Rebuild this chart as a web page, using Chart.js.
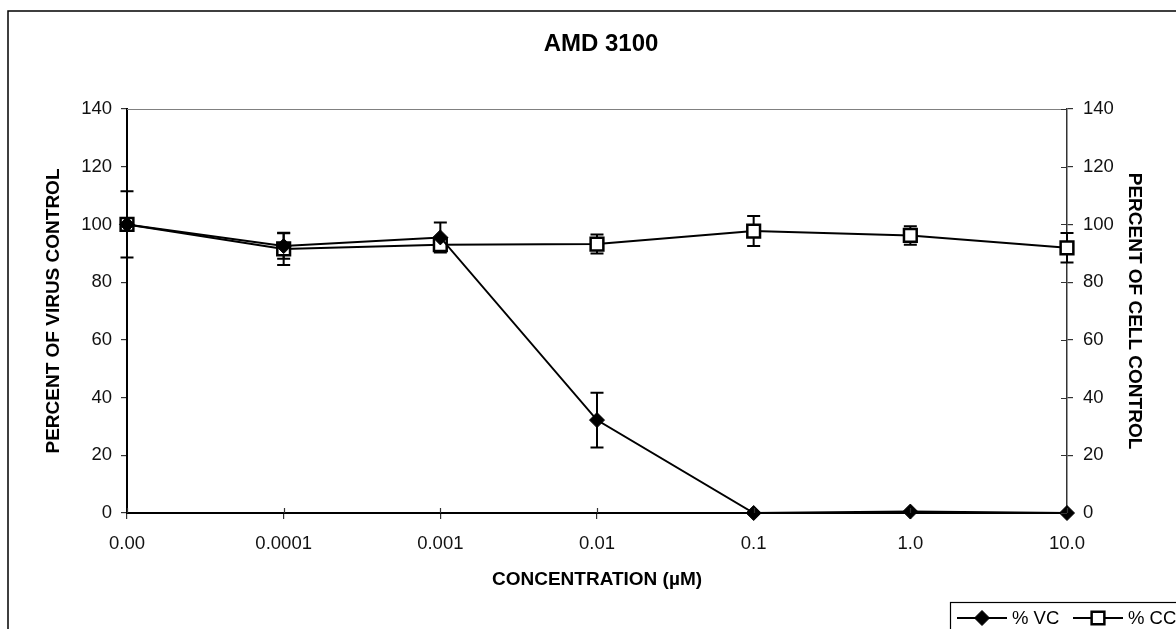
<!DOCTYPE html>
<html>
<head>
<meta charset="utf-8">
<title>AMD 3100</title>
<script src="https://cdn.jsdelivr.net/npm/chart.js@4.4.0/dist/chart.umd.min.js"></script>
<style>
  html, body { margin: 0; padding: 0; background: #fff; overflow: hidden; }
</style>
</head>
<body>
<canvas id="amdChart" width="1176" height="629"></canvas>
<script>
// categories (concentration, µM)
const CONCENTRATIONS = ['0.00', '0.0001', '0.001', '0.01', '0.1', '1.0', '10.0'];

// % of virus control and its error
const VC_VALUES = [100, 92.5, 95.5, 32.2, 0, 0.5, 0];
const VC_ERRORS = [11.5, 4.4, 5.2, 9.5, 0, 0, 0];

// % of cell control and its error
const CC_VALUES = [100, 91.5, 93, 93.2, 97.7, 96.2, 91.9];
const CC_ERRORS = [1.5, 5.6, 1, 3.3, 5.2, 3.2, 5.1];

const Y_TICKS = [0, 20, 40, 60, 80, 100, 120, 140];

const FONT = "'Liberation Sans', Arial, sans-serif";

// error bars, drawn behind the markers
const errorBars = {
    id: 'errorBars',
    beforeDatasetsDraw(chart) {
        const ctx = chart.ctx;
        ctx.save();
        ctx.strokeStyle = '#000';
        ctx.lineWidth = 2;
        chart.data.datasets.forEach((ds, i) => {
            const meta = chart.getDatasetMeta(i);
            const yScale = chart.scales[ds.yAxisID];
            meta.data.forEach((pt, j) => {
                const err = ds.errors[j];
                if (!err) return;
                const top = yScale.getPixelForValue(ds.data[j] + err);
                const bot = yScale.getPixelForValue(ds.data[j] - err);
                ctx.beginPath();
                ctx.moveTo(pt.x, top); ctx.lineTo(pt.x, bot);
                ctx.moveTo(pt.x - 6.5, top); ctx.lineTo(pt.x + 6.5, top);
                ctx.moveTo(pt.x - 6.5, bot); ctx.lineTo(pt.x + 6.5, bot);
                ctx.stroke();
            });
        });
        ctx.restore();
    }
};

// outer frame, plot top line, inner tick marks and the legend
const frame = {
    id: 'frame',
    afterDraw(chart) {
        const ctx = chart.ctx;
        const area = chart.chartArea;
        ctx.save();

        // chart border (runs off the page to the right/bottom)
        ctx.strokeStyle = '#000';
        ctx.lineWidth = 1.5;
        ctx.strokeRect(8, 11, 1400, 900);

        // plot area top
        ctx.strokeStyle = '#808080';
        ctx.lineWidth = 1;
        ctx.beginPath();
        ctx.moveTo(area.left, area.top + 0.5);
        ctx.lineTo(area.right, area.top + 0.5);
        ctx.stroke();

        // inside tick marks on right axis and x axis
        ctx.strokeStyle = '#333';
        ctx.lineWidth = 1.2;
        const y1 = chart.scales.y1;
        ctx.beginPath();
        Y_TICKS.forEach(v => {
            const py = Math.round(y1.getPixelForValue(v)) + 0.5;
            ctx.moveTo(area.right - 6, py);
            ctx.lineTo(area.right, py);
        });
        const xs = chart.scales.x;
        CONCENTRATIONS.forEach((c, i) => {
            const px = Math.round(xs.getPixelForValue(i)) + 0.5;
            ctx.moveTo(px, area.bottom - 5);
            ctx.lineTo(px, area.bottom);
        });
        ctx.stroke();

        // legend box (clipped by page edge)
        ctx.strokeStyle = '#000';
        ctx.lineWidth = 1.2;
        ctx.strokeRect(950.5, 602.5, 400, 100);

        const ly = 618;
        const items = [
            { x0: 957, label: '% VC', ds: chart.data.datasets[0] },
            { x0: 1073, label: '% CC', ds: chart.data.datasets[1] }
        ];
        ctx.font = '18.5px ' + FONT;
        ctx.textBaseline = 'middle';
        ctx.fillStyle = '#000';
        items.forEach(it => {
            ctx.strokeStyle = '#000';
            ctx.lineWidth = 2;
            ctx.beginPath();
            ctx.moveTo(it.x0, ly);
            ctx.lineTo(it.x0 + 50, ly);
            ctx.stroke();
            ctx.fillStyle = it.ds.pointBackgroundColor;
            ctx.strokeStyle = it.ds.pointBorderColor;
            ctx.lineWidth = it.ds.pointBorderWidth;
            Chart.helpers.drawPoint(ctx, {
                pointStyle: it.ds.pointStyle,
                radius: it.ds.pointRadius,
                borderWidth: it.ds.pointBorderWidth,
                rotation: 0
            }, it.x0 + 25, ly);
            ctx.fillStyle = '#000';
            ctx.fillText(it.label, it.x0 + 55, ly + 1);
        });
        ctx.restore();
    }
};

const tickFont = { family: FONT, size: 18.5 };
const axisTitleFont = { family: FONT, size: 19, weight: 'bold' };

new Chart(document.getElementById('amdChart').getContext('2d'), {
    type: 'line',
    data: {
        labels: CONCENTRATIONS,
        datasets: [
            {
                label: '% VC',
                data: VC_VALUES,
                errors: VC_ERRORS,
                yAxisID: 'y',
                borderColor: '#000',
                borderWidth: 2,
                pointStyle: 'rectRot',
                pointRadius: 7.5,
                pointBackgroundColor: '#000',
                pointBorderColor: '#000',
                pointBorderWidth: 1,
                tension: 0,
                clip: false
            },
            {
                label: '% CC',
                data: CC_VALUES,
                errors: CC_ERRORS,
                yAxisID: 'y1',
                borderColor: '#000',
                borderWidth: 2,
                pointStyle: 'rect',
                pointRadius: 9,
                pointBackgroundColor: '#fff',
                pointBorderColor: '#000',
                pointBorderWidth: 2.5,
                tension: 0,
                clip: false
            }
        ]
    },
    options: {
        responsive: false,
        animation: false,
        layout: { padding: { left: 26, right: 0, top: 0, bottom: 0 } },
        plugins: {
            legend: { display: false },
            tooltip: { enabled: false },
            title: {
                display: true,
                text: 'AMD 3100',
                color: '#000',
                font: { family: FONT, size: 24, weight: 'bold' },
                padding: { top: 30.3, bottom: 49.9 }
            }
        },
        scales: {
            x: {
                type: 'category',
                offset: false,
                grid: { display: true, drawOnChartArea: false, tickLength: 6, color: '#333', lineWidth: 1.2 },
                border: { display: true, color: '#000', width: 2 },
                ticks: { color: '#111', font: tickFont, padding: 14, maxRotation: 0, autoSkip: false },
                title: { display: true, text: 'CONCENTRATION (µM)', color: '#000', font: axisTitleFont, padding: { top: 0, bottom: 37.6 } },
                afterFit(scale) { scale.height = 116; }
            },
            y: {
                position: 'left',
                min: 0, max: 140,
                ticks: { stepSize: 20, color: '#111', font: tickFont, padding: 9 },
                grid: { display: true, drawOnChartArea: false, tickLength: 6, color: '#333', lineWidth: 1.2 },
                border: { display: true, color: '#000', width: 2 },
                title: { display: true, text: 'PERCENT OF VIRUS CONTROL', color: '#000', font: axisTitleFont, padding: { top: 16.6, bottom: 0 } },
                afterFit(scale) { scale.width = 101; }
            },
            y1: {
                position: 'right',
                min: 0, max: 140,
                ticks: { stepSize: 20, color: '#111', font: tickFont, padding: 10 },
                grid: { display: true, drawOnChartArea: false, tickLength: 6, color: '#333', lineWidth: 1.2 },
                border: { display: true, color: '#333', width: 1.5 },
                title: { display: true, text: 'PERCENT OF CELL CONTROL', color: '#000', font: axisTitleFont, padding: { top: 30.6, bottom: 0 } },
                afterFit(scale) { scale.width = 109; }
            }
        }
    },
    plugins: [errorBars, frame]
});
</script>
</body>
</html>
